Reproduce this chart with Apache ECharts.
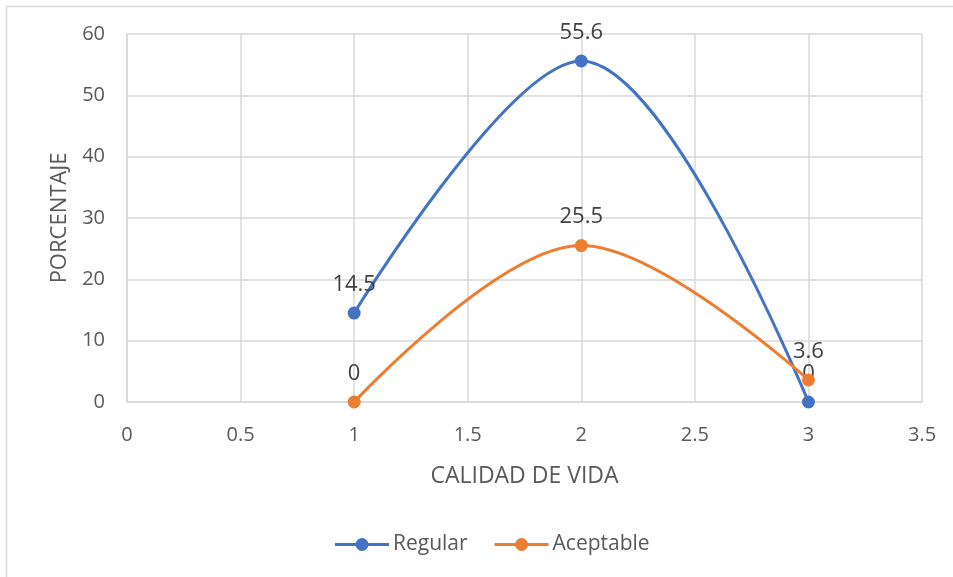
<!DOCTYPE html>
<html>
<head>
<meta charset="utf-8">
<script src="https://cdn.jsdelivr.net/npm/echarts@6/dist/echarts.min.js"></script>
<style>
  html, body { margin: 0; padding: 0; background: #fff; }
  #chart { width: 953px; height: 577px; }
</style>
</head>
<body>
<div id="chart"></div>
<script>
// Quality-of-life level (x) vs. percentage (y)
const xLevels = [1, 2, 3];
const regularValues = [14.5, 55.6, 0];
const aceptableValues = [0, 25.5, 3.6];
const seriesNames = ['Regular', 'Aceptable'];
const xAxisTitle = 'CALIDAD DE VIDA';
const yAxisTitle = 'PORCENTAJE';

const FONT = '"Open Sans", "Noto Sans", sans-serif';
const pairs = (xs, ys) => xs.map((x, i) => [x, ys[i]]);

// legend glyph: a short line with a round marker in the middle
const LEGEND_ICON = 'path://M0,5 L54,5 L54,8 L0,8 Z M27,0 A6.5,6.5 0 1,1 27,13 A6.5,6.5 0 1,1 27,0 Z';

const chart = echarts.init(document.getElementById('chart'), null, { renderer: 'canvas' });

const lineSeries = (name, color, values) => ({
  name,
  type: 'line',
  data: pairs(xLevels, values),
  smooth: 0.35,
  symbol: 'circle',
  symbolSize: 13,
  itemStyle: { color },
  lineStyle: { color, width: 3 },
  label: {
    show: true,
    position: 'top',
    distance: 11,
    color: '#404040',
    fontSize: 22,
    fontFamily: FONT
  },
  z: name === 'Regular' ? 3 : 4
});

chart.setOption({
  animation: false,
  backgroundColor: '#fff',
  grid: { left: 127, right: 31, top: 34, bottom: 175, containLabel: false },
  xAxis: {
    type: 'value',
    min: 0, max: 3.5, interval: 0.5,
    name: xAxisTitle,
    nameLocation: 'middle',
    nameGap: 63,
    nameTextStyle: { color: '#595959', fontSize: 23, fontFamily: FONT },
    axisLine: { show: true, lineStyle: { color: '#d9d9d9', width: 1.5 } },
    axisTick: { show: false },
    axisLabel: { color: '#595959', fontSize: 20, fontFamily: FONT, margin: 23 },
    splitLine: { show: true, lineStyle: { color: '#d9d9d9', width: 1.5 } }
  },
  yAxis: {
    type: 'value',
    min: 0, max: 60, interval: 10,
    name: yAxisTitle,
    nameLocation: 'middle',
    nameGap: 55,
    nameRotate: 90,
    nameTextStyle: { color: '#595959', fontSize: 22, fontFamily: FONT },
    axisLine: { show: true, lineStyle: { color: '#d9d9d9', width: 1.5 } },
    axisTick: { show: false },
    axisLabel: { color: '#595959', fontSize: 20, fontFamily: FONT, margin: 22 },
    splitLine: { show: true, lineStyle: { color: '#d9d9d9', width: 1.5 } }
  },
  legend: {
    bottom: 17,
    left: 330,
    itemWidth: 54,
    itemHeight: 13,
    itemGap: 27,
    icon: LEGEND_ICON,
    textStyle: { color: '#595959', fontSize: 21, fontFamily: FONT, padding: [0, 0, 0, -1] },
    data: seriesNames
  },
  graphic: [{
    type: 'polyline',
    shape: { points: [[6.5, 577], [6.5, 6.5], [953, 6.5]] },
    style: { stroke: '#d9d9d9', lineWidth: 1.5, fill: null },
    silent: true
  }],
  series: [
    lineSeries(seriesNames[0], '#4472C4', regularValues),
    lineSeries(seriesNames[1], '#ED7D31', aceptableValues)
  ]
});
</script>
</body>
</html>
